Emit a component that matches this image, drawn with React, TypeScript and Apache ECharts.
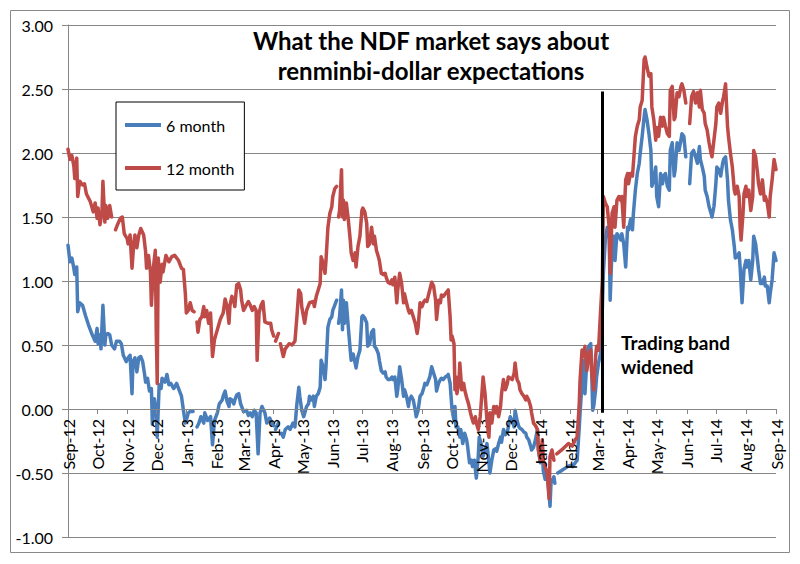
import React, { useEffect, useRef } from "react";
import * as echarts from "echarts";

// Days are counted from 2012-09-01 (day 0); null marks a missing quote (line break).
const START = Date.UTC(2012, 8, 1);
const END = Date.UTC(2014, 8, 1);
const DAY = 86400000;
const MONTHS = ["Jan", "Feb", "Mar", "Apr", "May", "Jun", "Jul", "Aug", "Sep", "Oct", "Nov", "Dec"];

const seriesNames = ["6 month", "12 month"];
const titleLines = ["What the NDF market says about", "renminbi-dollar expectations"];
const noteLines = ["Trading band", "widened"];
const bandWidenedDay = 551;
const bandLineValues = [-0.03, 2.48];
const yMin = -1;
const yMax = 3;
const yStep = 0.5;

const sixMonth: [number, number | null][] = [
  [0,1.28],[2,1.15],[4,1.18],[6,1.10],[7,1.05],[9,1.11],[10,0.76],[12,0.83],[15,0.81],[18,0.73],[21,0.66],[25,0.58],[28,0.53],[30,0.63],[31,0.51],[33,0.58],[34,0.47],[36,0.81],[38,0.50],[39,0.58],[41,0.59],[43,0.58],[45,0.50],[48,0.47],[50,0.53],[53,0.53],[55,0.51],[57,0.42],[60,0.37],[62,0.40],[64,0.42],[66,0.12],[67,0.37],[69,0.40],[71,0.29],[73,0.40],[75,0.41],[77,0.37],[79,0.27],[80,0.21],[82,0.24],[84,0.14],[86,0.16],[87,-0.12],[89,0.08],[91,-0.02],[92,-0.22],[94,0.19],[96,0.16],[97,0.24],[100,0.21],[102,0.27],[104,0.19],[106,0.20],[109,0.16],[112,0.20],[115,0.14],[117,0.10],[119,-0.01],[121,-0.11],[123,-0.06],[124,-0.03],[126,-0.02],[129,-0.02],[131,null],
  [133,-0.14],[135,-0.11],[137,-0.06],[140,-0.11],[141,-0.03],[144,-0.09],[147,-0.06],[149,-0.28],[151,-0.09],[154,-0.03],[156,0.04],[159,0.07],[160,0.10],[162,0.14],[164,0.06],[166,0.02],[167,0.08],[169,0.07],[171,0.04],[172,0.07],[174,0.11],[176,0.12],[178,0.04],[179,0.02],[181,-0.02],[184,-0.01],[186,-0.05],[188,-0.03],[190,-0.06],[192,-0.01],[194,-0.03],[196,-0.35],[198,-0.03],[200,0.02],[203,-0.03],[205,-0.11],[208,-0.07],[210,-0.11],[212,-0.13],[213,null],[214,-0.16],[217,-0.11],[218,null],
  [220,-0.19],[222,-0.22],[224,-0.16],[227,-0.14],[229,-0.16],[232,-0.11],[234,-0.14],[236,0.04],[238,0.17],[239,0.10],[241,-0.01],[243,-0.06],[246,0.02],[248,0.04],[249,0.10],[251,0.07],[253,0.10],[254,0.02],[256,0.10],[258,0.12],[260,0.17],[261,0.38],[263,0.33],[265,0.23],[266,0.33],[268,0.64],[270,0.70],[272,0.72],[273,0.77],[275,0.81],[277,0.85],[278,null],
  [279,0.67],[280,0.72],[282,0.93],[283,0.62],[284,0.85],[285,0.67],[287,0.83],[289,0.64],[291,0.46],[292,0.38],[294,0.43],[296,0.36],[297,0.32],[299,0.41],[301,0.46],[303,0.72],[304,0.73],[306,0.71],[308,0.67],[309,0.49],[311,0.51],[313,0.60],[315,0.62],[316,0.49],[318,0.47],[320,0.43],[321,0.38],[323,0.30],[325,0.28],[327,0.29],[328,0.25],[330,0.23],[332,0.23],[334,0.25],[335,0.23],[337,0.25],[339,0.10],[340,0.15],[342,0.33],[344,0.23],[346,0.10],[347,0.15],[349,0.10],[351,0.02],[352,0.07],[354,0.10],[356,0.07],[358,-0.01],[359,-0.06],
  [361,-0.01],[363,0.10],[365,0.12],[367,0.17],[368,0.20],[370,0.19],[372,0.23],[373,0.25],[375,0.33],[377,0.28],[379,0.23],[380,0.14],[382,0.20],[384,0.23],[385,0.24],[387,0.23],[389,0.25],[391,0.26],[392,0.27],[394,0.20],[396,-0.01],[398,-0.09],[399,0.02],[400,-0.14],[402,-0.14],[404,-0.22],[405,-0.16],[407,-0.27],[409,-0.19],[411,-0.24],[412,-0.29],[414,-0.42],[416,-0.40],[417,-0.45],[419,-0.40],[421,-0.54],[423,-0.37],[424,-0.22],[426,-0.27],[428,-0.37],[430,-0.32],[432,-0.27],[434,-0.42],[435,-0.50],[437,-0.40],[439,-0.32],[441,-0.31],[442,-0.33],[444,-0.27],[446,-0.22],[447,-0.26],[449,-0.16],[451,-0.20],[453,-0.18],[454,-0.14],[456,-0.06],[458,-0.09],[460,-0.14],[461,-0.01],[463,-0.09],[465,-0.14],[466,-0.15],[468,-0.16],[470,-0.18],[472,-0.19],[473,-0.22],[475,-0.24],[477,-0.29],[478,-0.32],[480,-0.30],
  [482,-0.24],[484,-0.16],[485,-0.32],[487,-0.42],[489,-0.29],[490,-0.48],[492,-0.55],[494,-0.48],[496,-0.66],[497,-0.76],[498,-0.58],[501,-0.53],[502,-0.58],[503,null],[505,-0.50],[509,-0.48],[515,-0.45],[518,-0.44],[520,-0.45],[523,-0.42],[525,-0.40],[527,-0.16],[528,-0.03],[530,0.20],[532,0.38],[533,0.12],[535,0.38],[537,0.49],[539,0.51],[540,0.28],[541,-0.01],[542,0.02],[544,0.15],[545,0.25],[547,0.36],[549,0.43],[551,0.80],[552,1.06],[554,1.32],[556,1.42],[558,1.37],[559,0.85],[561,1.27],[563,1.35],[564,1.16],[566,1.37],[568,1.35],[570,1.32],[571,1.37],[573,1.29],[575,1.11],[577,1.42],[578,1.40],[580,1.48],[582,1.40],[583,1.53],[585,1.71],[587,1.84],[589,1.92],[590,2.00],[592,2.13],[594,2.28],[595,2.34],[597,2.26],[599,2.15],[601,2.02],[602,1.74],[604,1.79],[606,1.89],[607,1.66],[609,1.58],
  [611,1.84],[613,1.76],[614,1.82],[616,1.84],[618,1.74],[620,1.71],[621,2.02],[623,2.08],[625,1.82],[626,1.87],[628,2.08],[630,2.02],[632,2.10],[633,2.15],[635,2.13],[637,1.97],[639,null],[641,1.76],[643,2.00],[645,2.02],[647,1.97],[649,1.92],[651,2.05],[652,1.95],[654,1.89],[656,1.82],[657,1.71],[659,1.66],[661,1.58],[663,1.53],[664,1.50],[666,1.58],[668,1.76],[669,1.89],[671,1.87],[673,1.82],[675,1.92],[676,1.95],[678,1.97],[680,1.79],[681,1.63],[683,1.48],[685,1.40],[687,1.27],[688,1.18],[690,1.19],[692,1.22],[693,1.11],[695,0.83],[697,1.09],[699,1.16],[700,1.11],[702,1.16],[704,1.01],[706,1.16],[707,1.35],[709,1.29],[711,1.16],[712,1.09],[714,0.98],[716,0.98],[718,1.03],[719,0.96],[721,0.96],[723,0.83],[724,0.90],[726,1.01],[728,1.22],[730,1.16],
];

const twelveMonth: [number, number | null][] = [
  [0,2.03],[2,1.95],[4,1.98],[6,1.90],[7,1.80],[9,1.96],[10,1.66],[12,1.78],[15,1.75],[17,1.76],[19,1.68],[23,1.62],[26,1.54],[28,1.61],[30,1.49],[31,1.57],[33,1.44],[35,1.54],[36,1.78],[38,1.46],[39,1.59],[41,1.49],[43,1.59],[45,1.50],[47,null],[49,1.40],[51,1.44],[54,1.49],[56,1.50],[58,1.37],[61,1.33],[62,1.29],[64,1.36],[66,1.10],[68,1.31],[69,1.36],[71,1.26],[73,1.36],[75,1.41],[78,1.36],[80,1.23],[81,1.10],[83,1.20],[85,1.07],[86,0.81],[88,1.10],[90,1.24],[91,0.60],[92,0.20],[93,1.18],[95,0.99],[97,1.13],[98,1.07],[101,1.20],[104,1.15],[107,1.19],[110,1.20],[114,1.16],[117,1.10],[119,1.09],[121,0.90],[122,0.75],[124,0.77],[126,0.83],[128,0.77],[130,0.76],[131,null],
  [133,0.68],[134,0.60],[136,0.70],[138,0.72],[140,0.80],[141,0.72],[143,0.77],[145,0.67],[147,0.75],[148,0.57],[149,0.41],[151,0.54],[154,0.62],[157,0.70],[160,0.75],[162,0.86],[164,0.80],[166,0.67],[167,0.81],[169,0.88],[171,0.84],[172,0.80],[174,0.97],[176,0.98],[178,0.93],[179,0.85],[181,0.77],[183,0.80],[186,0.84],[188,0.81],[190,0.77],[192,0.80],[194,0.77],[195,0.38],[197,0.75],[199,0.81],[201,0.84],[203,0.68],[206,0.67],[209,0.67],[210,0.62],[212,0.57],[213,null],[214,0.53],[217,0.59],[218,null],
  [219,0.51],[222,0.41],[224,0.47],[228,0.51],[231,0.50],[234,0.53],[236,0.72],[238,0.93],[240,0.90],[241,0.80],[244,0.67],[246,0.77],[249,0.83],[253,0.84],[254,0.80],[256,0.88],[258,0.93],[260,0.98],[261,1.19],[263,1.14],[265,1.06],[266,1.16],[268,1.42],[270,1.53],[272,1.58],[273,1.66],[275,1.72],[277,1.74],[278,null],
  [279,1.50],[280,1.55],[282,1.87],[283,1.50],[284,1.63],[285,1.48],[287,1.61],[289,1.48],[291,1.32],[292,1.22],[294,1.16],[296,1.22],[297,1.11],[299,1.27],[301,1.35],[303,1.55],[304,1.57],[306,1.54],[308,1.45],[309,1.27],[311,1.29],[313,1.42],[315,1.29],[316,1.35],[318,1.24],[320,1.19],[321,1.16],[323,1.06],[325,1.05],[327,1.06],[328,1.03],[330,0.99],[332,0.98],[334,1.01],[335,0.97],[337,1.03],[339,0.83],[340,0.93],[342,1.06],[344,0.98],[346,0.83],[347,0.90],[349,0.83],[351,0.77],[352,0.75],[354,0.77],[356,0.72],[358,0.67],[360,0.59],
  [361,0.64],[363,0.83],[365,0.80],[367,0.84],[368,0.85],[370,0.84],[372,0.90],[373,0.93],[375,0.99],[377,0.96],[379,0.85],[380,0.70],[382,0.85],[384,0.83],[385,0.89],[387,0.88],[389,0.90],[391,0.92],[392,0.93],[394,0.72],[395,0.54],[396,0.57],[398,0.51],[399,0.15],[400,0.25],[401,0.12],[403,0.20],[404,0.36],[406,0.15],[408,0.20],[409,0.15],[411,0.09],[413,0.04],[415,-0.03],[416,-0.06],[418,-0.11],[420,-0.06],[421,-0.11],[423,-0.16],[425,-0.06],[426,0.04],[428,0.25],[430,0.12],[432,-0.09],[434,-0.22],[435,-0.03],[437,-0.11],[439,0.02],[441,-0.03],[442,0.02],[444,-0.06],[446,0.02],[447,0.12],[449,0.23],[451,0.15],[453,0.20],[454,0.25],[456,0.24],[458,0.23],[460,0.28],[461,0.36],[463,0.23],[465,0.20],[466,0.15],[468,0.12],[470,0.10],[472,0.07],[473,0.10],[475,0.07],[477,0.02],[478,-0.03],[480,-0.11],
  [482,-0.13],[484,-0.16],[485,-0.32],[487,-0.40],[489,-0.24],[490,-0.40],[492,-0.45],[494,-0.50],[496,-0.70],[497,-0.37],[499,-0.32],[501,-0.40],[503,null],[504,-0.35],[509,-0.32],[516,-0.27],[520,-0.29],[523,-0.24],[525,-0.22],[527,0.02],[528,0.23],[530,0.46],[532,0.41],[533,0.49],[535,0.30],[537,0.43],[539,0.46],[540,0.28],[542,0.15],[544,0.41],[545,0.49],[547,0.46],[549,0.75],[551,1.01],[552,1.66],[554,1.61],[556,1.58],[558,1.42],[559,1.06],[561,1.53],[563,1.58],[564,1.42],[566,1.63],[568,1.66],[570,1.63],[571,1.66],[573,1.42],[575,1.79],[577,1.84],[578,1.76],[580,1.84],[582,1.82],[583,1.92],[585,2.13],[587,2.21],[589,2.26],[590,2.36],[592,2.41],[594,2.73],[595,2.75],[597,2.67],[599,2.60],[601,2.62],[602,2.36],[604,2.26],[606,2.10],[607,2.20],[609,2.13],
  [611,2.28],[613,2.21],[614,2.28],[616,2.21],[618,2.15],[620,2.13],[621,2.49],[623,2.52],[625,2.26],[626,2.28],[628,2.47],[630,2.44],[632,2.52],[633,2.54],[635,2.49],[637,2.39],[639,null],[641,2.23],[643,2.44],[645,2.48],[647,2.39],[649,2.47],[651,2.36],[652,2.49],[654,2.34],[656,2.31],[657,2.23],[659,2.18],[661,2.08],[663,2.00],[664,1.97],[666,2.10],[668,2.23],[669,2.36],[671,2.39],[673,2.31],[675,2.41],[676,2.44],[678,2.54],[680,2.21],[681,2.13],[683,2.00],[685,1.89],[687,1.71],[688,1.68],[690,1.74],[692,1.66],[693,1.42],[694,1.32],[696,1.53],[697,1.68],[699,1.74],[700,1.66],[702,1.71],[704,1.55],[706,1.66],[707,2.02],[709,1.97],[711,1.84],[712,1.76],[714,1.68],[716,1.79],[718,1.63],[719,1.66],[721,1.61],[723,1.50],[724,1.66],[726,1.79],[728,1.95],[730,1.87],
];

const toPoints = (rows: [number, number | null][]) =>
  rows.map(([d, v]) => [START + d * DAY, v === null ? null : v]);

const monthLabel = (value: number) => {
  const d = new Date(value);
  return MONTHS[d.getUTCMonth()] + "-" + String(d.getUTCFullYear()).slice(2);
};

const FONT = "Lato, 'Open Sans', sans-serif";
const GRID_TOP = 25;
const GRID_BOTTOM = 27;
const PLOT_HEIGHT = 564 - GRID_TOP - GRID_BOTTOM;

export default function App() {
  const ref = useRef<HTMLDivElement>(null);
  useEffect(() => {
    if (!ref.current) return;
    const chart = echarts.init(ref.current, undefined, { renderer: "svg" });
    const bandTime = START + bandWidenedDay * DAY;
    // pixel shift of the horizontal axis from the plot bottom (yMin) up to the zero line
    const zeroShift = (PLOT_HEIGHT * (0 - yMin)) / (yMax - yMin);
    chart.setOption({
      animation: false,
      useUTC: true,
      backgroundColor: "#ffffff",
      textStyle: { fontFamily: FONT },
      grid: {
        left: 68,
        right: 24,
        top: GRID_TOP,
        bottom: GRID_BOTTOM,
        containLabel: false,
        outerBoundsMode: "none",
      },
      xAxis: {
        type: "time",
        min: START,
        max: END,
        splitNumber: 24,
        minInterval: 30 * DAY,
        maxInterval: 30 * DAY,
        position: "bottom",
        offset: -zeroShift,
        z: 3,
        axisLine: { onZero: true, lineStyle: { color: "#868686", width: 1 } },
        axisTick: { show: true, length: 5, lineStyle: { color: "#868686" } },
        axisLabel: {
          rotate: 90,
          margin: 10,
          fontSize: 16,
          color: "#000",
          fontFamily: FONT,
          formatter: (v: number) => monthLabel(v),
          showMinLabel: true,
          showMaxLabel: true,
          hideOverlap: false,
        },
        splitLine: { show: false },
      },
      yAxis: {
        type: "value",
        min: yMin,
        max: yMax,
        interval: yStep,
        axisLine: { show: true, onZero: false, lineStyle: { color: "#868686", width: 1 } },
        axisTick: { show: true, length: 6, lineStyle: { color: "#868686" } },
        axisLabel: {
          formatter: (v: number) => v.toFixed(2),
          fontSize: 16,
          color: "#000",
          margin: 15,
          fontFamily: FONT,
        },
        splitLine: { show: true, lineStyle: { color: "#868686", width: 1 } },
      },
      legend: {
        data: seriesNames,
        orient: "vertical",
        left: 116,
        top: 102,
        padding: [15, 10, 14, 9],
        itemGap: 27,
        itemWidth: 36,
        itemHeight: 4,
        icon: "rect",
        borderColor: "#000",
        borderWidth: 1,
        backgroundColor: "#fff",
        selectedMode: false,
        textStyle: { fontSize: 16, color: "#000", fontFamily: FONT, lineHeight: 16 },
      },
      series: [
        {
          name: seriesNames[0],
          type: "line",
          data: toPoints(sixMonth),
          showSymbol: false,
          symbol: "none",
          connectNulls: false,
          z: 2,
          itemStyle: { color: "#4A7EBB" },
          lineStyle: { color: "#4A7EBB", width: 3.5, join: "round", cap: "round" },
        },
        {
          name: seriesNames[1],
          type: "line",
          data: toPoints(twelveMonth),
          showSymbol: false,
          symbol: "none",
          connectNulls: false,
          z: 3,
          itemStyle: { color: "#BE4B48" },
          lineStyle: { color: "#BE4B48", width: 3.5, join: "round", cap: "round" },
          markLine: {
            silent: true,
            symbol: ["none", "none"],
            label: { show: false },
            lineStyle: { color: "#000", width: 3, type: "solid" },
            data: [[{ coord: [bandTime, bandLineValues[0]] }, { coord: [bandTime, bandLineValues[1]] }]],
          },
        },
      ],
      graphic: [
        {
          type: "rect",
          silent: true,
          z: -10,
          shape: { x: 10.5, y: 10.5, width: 779, height: 542 },
          style: { fill: "none", stroke: "#898989", lineWidth: 1 },
        },
        {
          type: "rect",
          silent: true,
          z: 1,
          shape: { x: 607, y: 324, width: 171, height: 66 },
          style: { fill: "#ffffff", stroke: "none" },
        },
        {
          type: "text",
          x: 431,
          y: 40,
          style: { text: titleLines[0], font: "bold 24px " + FONT, fill: "#000", align: "center", verticalAlign: "middle" },
        },
        {
          type: "text",
          x: 431,
          y: 70,
          style: { text: titleLines[1], font: "bold 24px " + FONT, fill: "#000", align: "center", verticalAlign: "middle" },
        },
        {
          type: "text",
          x: 621,
          y: 342,
          z: 2,
          style: { text: noteLines[0], font: "bold 19px " + FONT, fill: "#000", align: "left", verticalAlign: "middle" },
        },
        {
          type: "text",
          x: 621,
          y: 366,
          z: 2,
          style: { text: noteLines[1], font: "bold 19px " + FONT, fill: "#000", align: "left", verticalAlign: "middle" },
        },
      ],
    });
    return () => chart.dispose();
  }, []);
  return (
    <div
      ref={ref}
      style={{ position: "absolute", left: 0, top: 0, width: 800, height: 564, background: "#fff" }}
    />
  );
}
